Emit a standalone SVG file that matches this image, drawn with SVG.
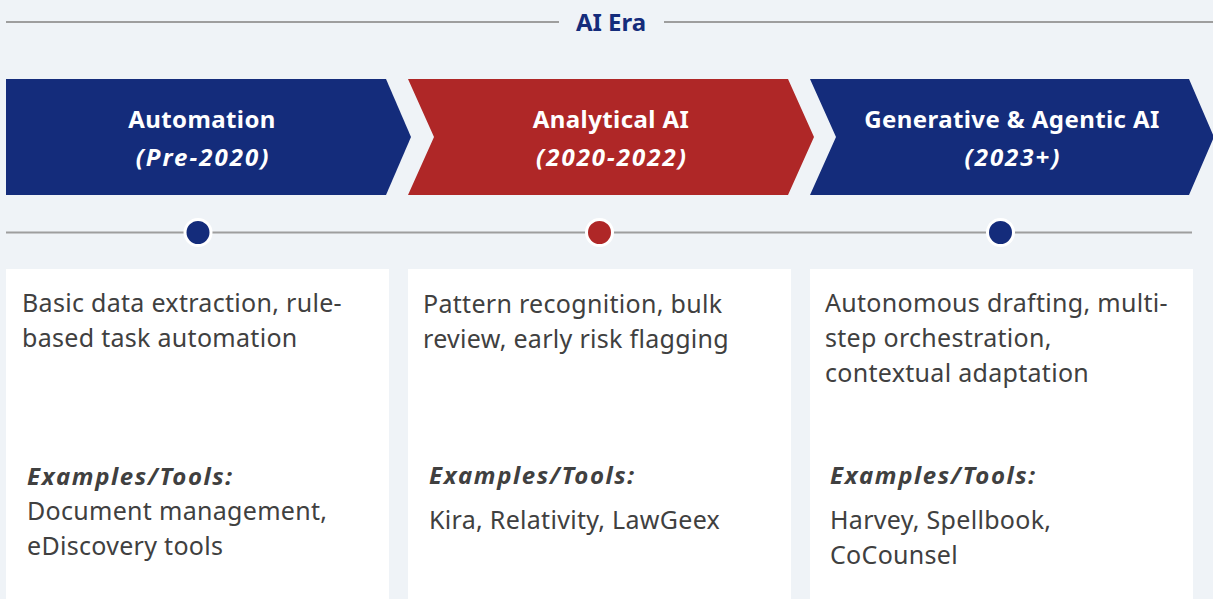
<svg xmlns="http://www.w3.org/2000/svg" width="1213" height="599" viewBox="0 0 1213 599">
<style>
.bg{fill:#eff3f7}
.navy{fill:#142c7b}
.red{fill:#af2727}
.rule{stroke:#9e9e9e;stroke-width:2;fill:none}
.card{fill:#ffffff}
.dot{stroke:#ffffff;stroke-width:3}
.era{font-family:"Noto Sans",sans-serif;font-weight:bold;font-size:24px;fill:#142c7b}
.h{font-family:"Noto Sans",sans-serif;font-weight:bold;font-size:24px;letter-spacing:0.4px;fill:#ffffff;text-anchor:middle}
.hi{font-family:"Noto Sans",sans-serif;font-weight:bold;font-style:italic;font-size:24px;letter-spacing:2px;fill:#ffffff;text-anchor:middle}
.b{font-family:"Noto Sans",sans-serif;font-size:25px;letter-spacing:0.3px;fill:#404040}
.ex{font-family:"Noto Sans",sans-serif;font-weight:bold;font-style:italic;font-size:24px;letter-spacing:1.6px;fill:#404040}
</style>
<rect class="bg" x="0" y="0" width="1213" height="599"/>
<g id="era-header">
<line class="rule" x1="6" y1="22" x2="559" y2="22"/>
<line class="rule" x1="664" y1="22" x2="1213" y2="22"/>
<text class="era" x="611" y="31" text-anchor="middle">AI Era</text>
</g>
<g id="connectors">
<line class="rule" x1="6" y1="232.5" x2="1192" y2="232.5"/>
</g>
<g id="phase-automation">
<polygon class="navy" points="6,79 386,79 411,137 386,195 6,195"/>
<text class="h" x="202" y="128">Automation</text>
<text class="hi" x="203" y="166">(Pre-2020)</text>
<circle class="navy dot" cx="198" cy="232.5" r="13"/>
<rect class="card" x="6" y="269" width="383" height="340"/>
<text class="b" x="22" y="312">Basic data extraction, rule-</text>
<text class="b" x="22" y="347">based task automation</text>
<text class="ex" x="27" y="485">Examples/Tools:</text>
<text class="b" x="27" y="520">Document management,</text>
<text class="b" x="27" y="555">eDiscovery tools</text>
</g>
<g id="phase-analytical">
<polygon class="red" points="408,79 788,79 814,137 788,195 408,195 434,137"/>
<text class="h" x="611" y="128">Analytical AI</text>
<text class="hi" x="612" y="166">(2020-2022)</text>
<circle class="red dot" cx="599.5" cy="232.5" r="13"/>
<rect class="card" x="408" y="269" width="383" height="340"/>
<text class="b" x="423" y="313">Pattern recognition, bulk</text>
<text class="b" x="423" y="348">review, early risk flagging</text>
<text class="ex" x="429" y="484">Examples/Tools:</text>
<text class="b" x="429" y="529">Kira, Relativity, LawGeex</text>
</g>
<g id="phase-generative">
<polygon class="navy" points="810,79 1189,79 1214,137 1189,195 810,195 836,137"/>
<text class="h" x="1012" y="128">Generative &amp; Agentic AI</text>
<text class="hi" x="1013" y="166">(2023+)</text>
<circle class="navy dot" cx="1000.5" cy="232.5" r="13"/>
<rect class="card" x="810" y="269" width="383" height="340"/>
<text class="b" x="825" y="312">Autonomous drafting, multi-</text>
<text class="b" x="825" y="347">step orchestration,</text>
<text class="b" x="825" y="382">contextual adaptation</text>
<text class="ex" x="830" y="484">Examples/Tools:</text>
<text class="b" x="830" y="529">Harvey, Spellbook,</text>
<text class="b" x="830" y="564">CoCounsel</text>
</g>
</svg>
